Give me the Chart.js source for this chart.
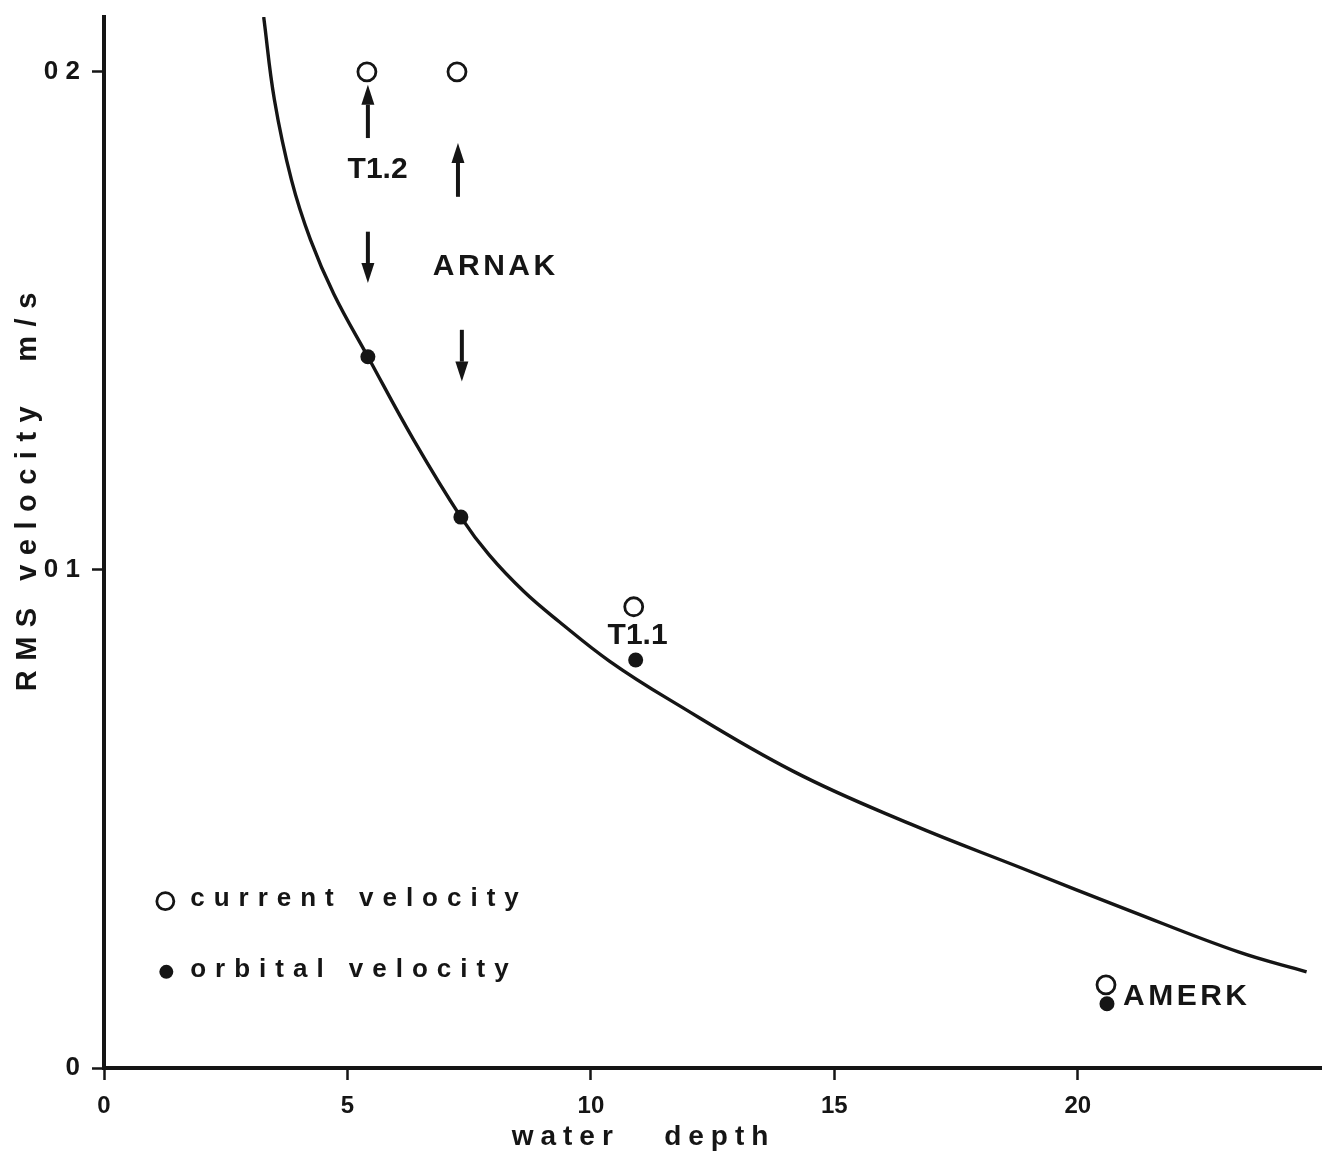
<!DOCTYPE html>
<html>
<head>
<meta charset="utf-8">
<title>RMS velocity vs water depth</title>
<script src="https://cdn.jsdelivr.net/npm/chart.js@4.4.1/dist/chart.umd.min.js"></script>
<style>
  html, body { margin: 0; padding: 0; background: #fff; }
  canvas { display: block; }
</style>
</head>
<body>
<canvas id="grafico" width="1333" height="1155" style="width:1333px;height:1155px"></canvas>
<script>
// ejes
const depthTicks = [0, 5, 10, 15, 20];
const velTicks = [0, 0.1, 0.2];
const velTickLabels = ['0', '0 1', '0 2'];

// curva teorica
const curveDepth = [3.28, 3.50, 3.85, 4.24, 4.72, 5.42, 6.36, 7.33, 7.91, 8.63, 9.35, 10.38, 11.62, 14.15, 16.56, 18.83, 21.09, 23.30, 24.70];
const curveVel = [0.2110, 0.1944, 0.1783, 0.1663, 0.1554, 0.1428, 0.1261, 0.1106, 0.1030, 0.0956, 0.0896, 0.0817, 0.0739, 0.0596, 0.0490, 0.0402, 0.0315, 0.0233, 0.0193];

// estaciones
const sites = ['T1.2', 'ARNAK', 'T1.1', 'AMERK'];
const currentDepth = [5.4, 7.25, 10.88, 20.58];
const currentVel = [0.2, 0.2, 0.0926, 0.0167];
const orbitalDepth = [5.42, 7.33, 10.92, 20.6];
const orbitalVel = [0.1428, 0.1106, 0.0819, 0.0129];

// donde va el nombre de cada estacion
const labelDepth = [5.62, 8.01, 10.96, 20.93];
const labelVel = [0.1803, 0.1608, 0.0867, 0.0143];
const labelAlign = ['center', 'center', 'center', 'left'];

// flechas (desde -> hasta)
const arrowDepth = [5.42, 5.42, 7.27, 7.35];
const arrowFrom = [0.1867, 0.1679, 0.1749, 0.1482];
const arrowTo = [0.1974, 0.1576, 0.1857, 0.1378];

// leyenda
const legendText = ['current velocity', 'orbital velocity'];
const legendDepth = [1.26, 1.28];
const legendVel = [0.0335, 0.0193];
const legendTextDepth = 1.77;

const INK = '#151515';
const FONT = '"Liberation Sans", Arial, sans-serif';

const curva = {
    label: 'curve',
    data: curveDepth.map((d, i) => ({x: d, y: curveVel[i]})),
    showLine: true,
    borderColor: INK,
    borderWidth: 3.4,
    pointRadius: 0,
    tension: 0.4,
};
const corriente = {
    label: 'current velocity',
    data: currentDepth.map((d, i) => ({x: d, y: currentVel[i]})),
    pointRadius: 9,
    pointBackgroundColor: '#fff',
    pointBorderColor: INK,
    pointBorderWidth: 2.8,
};
const orbital = {
    label: 'orbital velocity',
    data: orbitalDepth.map((d, i) => ({x: d, y: orbitalVel[i]})),
    pointRadius: 7.5,
    pointBackgroundColor: INK,
    pointBorderColor: INK,
    pointBorderWidth: 0,
};

function texto(ctx, str, x, y, size, spacing, align) {
    ctx.save();
    ctx.font = 'bold ' + size + 'px ' + FONT;
    ctx.letterSpacing = spacing + 'px';
    ctx.fillStyle = INK;
    ctx.textBaseline = 'middle';
    let w = ctx.measureText(str).width - spacing;
    let x0 = x;
    if (align === 'center') x0 = x - w / 2;
    ctx.textAlign = 'left';
    ctx.fillText(str, x0, y);
    ctx.restore();
}

function flecha(ctx, x, y0, y1) {
    const dir = y1 < y0 ? -1 : 1;
    const head = 20;
    ctx.save();
    ctx.strokeStyle = INK;
    ctx.fillStyle = INK;
    ctx.lineWidth = 4;
    ctx.beginPath();
    ctx.moveTo(x, y0);
    ctx.lineTo(x, y1 - dir * head);
    ctx.stroke();
    ctx.beginPath();
    ctx.moveTo(x, y1);
    ctx.lineTo(x - 6.5, y1 - dir * head);
    ctx.lineTo(x + 6.5, y1 - dir * head);
    ctx.closePath();
    ctx.fill();
    ctx.restore();
}

const anotaciones = {
    id: 'anotaciones',
    afterDatasetsDraw(chart) {
        const ctx = chart.ctx;
        const sx = chart.scales.x;
        const sy = chart.scales.y;

        arrowDepth.forEach((d, i) => {
            flecha(ctx, sx.getPixelForValue(d), sy.getPixelForValue(arrowFrom[i]), sy.getPixelForValue(arrowTo[i]));
        });

        sites.forEach((s, i) => {
            texto(ctx, s, sx.getPixelForValue(labelDepth[i]), sy.getPixelForValue(labelVel[i]),
                30, s.length > 4 ? 3.5 : 0, labelAlign[i]);
        });

        // leyenda
        ctx.save();
        ctx.strokeStyle = INK;
        ctx.lineWidth = 2.8;
        ctx.beginPath();
        ctx.arc(sx.getPixelForValue(legendDepth[0]), sy.getPixelForValue(legendVel[0]), 8.5, 0, Math.PI * 2);
        ctx.stroke();
        ctx.fillStyle = INK;
        ctx.beginPath();
        ctx.arc(sx.getPixelForValue(legendDepth[1]), sy.getPixelForValue(legendVel[1]), 7, 0, Math.PI * 2);
        ctx.fill();
        ctx.restore();
        legendText.forEach((t, i) => {
            texto(ctx, t, sx.getPixelForValue(legendTextDepth), sy.getPixelForValue(legendVel[i]) - 2, 26, 9, 'left');
        });

        // titulos de ejes
        texto(ctx, 'water   depth', 640, 1137, 28, 7, 'center');
        ctx.save();
        ctx.translate(28, 492);
        ctx.rotate(-Math.PI / 2);
        texto(ctx, 'RMS velocity  m/s', 0, 0, 29, 9.5, 'center');
        ctx.restore();
    }
};

const grafica = document.querySelector('#grafico');
const myChart = new Chart(grafica, {
    type: 'scatter',
    data: {
        datasets: [curva, corriente, orbital]
    },
    options: {
        responsive: false,
        animation: false,
        events: [],
        layout: { padding: { top: 17, right: 11, left: 0, bottom: 0 } },
        plugins: {
            legend: { display: false },
            tooltip: { enabled: false },
        },
        scales: {
            x: {
                type: 'linear',
                min: 0,
                max: 25,
                afterBuildTicks: (scale) => { scale.ticks = depthTicks.map(v => ({value: v})); },
                afterFit: (scale) => {
                    scale.height = 87;
                    scale.paddingLeft = 0;
                    scale.paddingRight = 0;
                },
                border: { display: true, color: INK, width: 4 },
                grid: { drawOnChartArea: false, drawTicks: true, tickLength: 12, tickWidth: 2.5, tickColor: INK },
                ticks: {
                    color: INK,
                    padding: 12,
                    maxRotation: 0,
                    font: { family: FONT, size: 24, weight: 'bold' },
                    callback: (v) => String(v),
                },
            },
            y: {
                type: 'linear',
                min: 0,
                max: 0.211,
                afterBuildTicks: (scale) => { scale.ticks = velTicks.map(v => ({value: v})); },
                afterFit: (scale) => {
                    scale.width = 104;
                    scale.paddingTop = 0;
                    scale.paddingBottom = 0;
                },
                border: { display: true, color: INK, width: 4 },
                grid: { drawOnChartArea: false, drawTicks: true, tickLength: 12, tickWidth: 2.5, tickColor: INK },
                ticks: {
                    color: INK,
                    padding: 12,
                    font: { family: FONT, size: 26, weight: 'bold' },
                    callback: (v) => velTickLabels[velTicks.indexOf(v)],
                },
            },
        },
    },
    plugins: [anotaciones],
});
</script>
</body>
</html>
